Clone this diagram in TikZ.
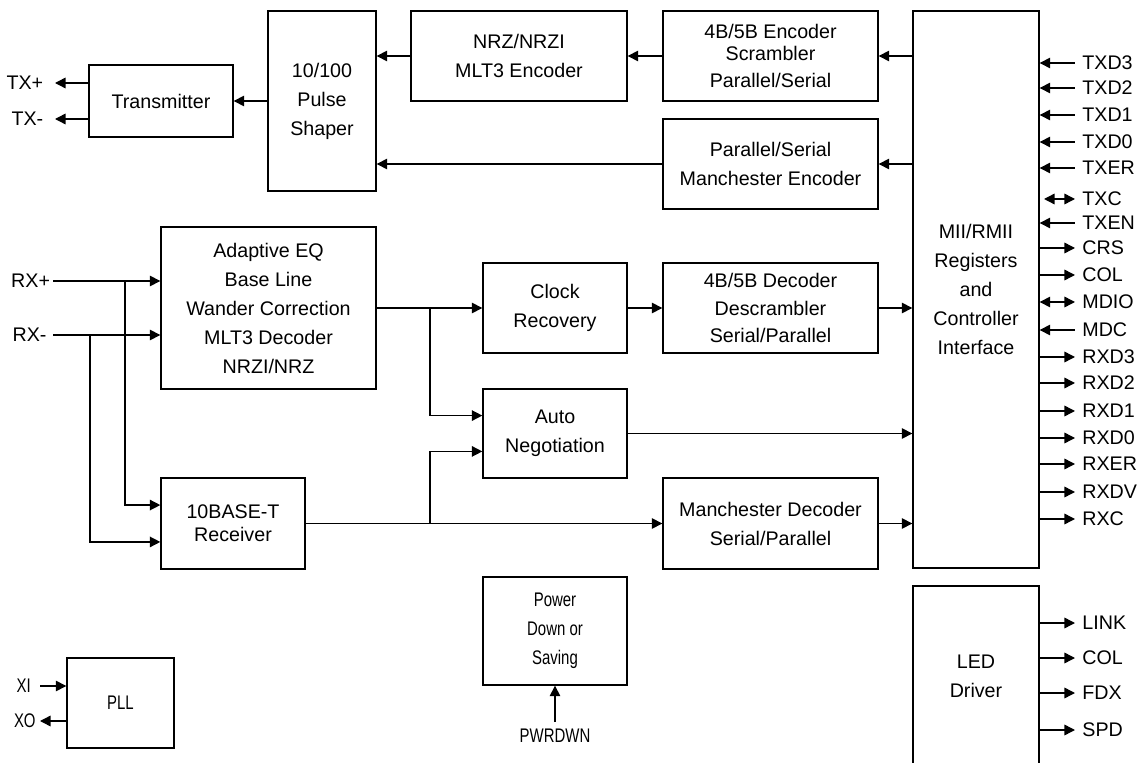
\documentclass[tikz,border=0pt]{standalone}
\usepackage{fontspec}
\setmainfont{Liberation Sans}
\newfontfamily\narrowsf[FakeStretch=0.76]{Liberation Sans}
\usetikzlibrary{positioning,arrows.meta}

\begin{document}
\begin{tikzpicture}[
     % define styles
     x=0.02cm, y=-0.02cm,
     blk/.style 2 args={
         draw,
         line width=0.8pt,
         align=center,
         inner sep=0pt,
         minimum width=#1,
         minimum height=#2
     },
     sigr/.style={anchor=west, inner xsep=4pt, inner ysep=1pt},
     sigl/.style={anchor=east, inner ysep=1pt},
     narrow/.style={font=\fontsize{11.2}{16.5}\selectfont\narrowsf},
     wire/.style={line width=0.8pt},
     arr/.style={wire, ->},
     rarr/.style={wire, <-},
     darr/.style={wire, <->},
     >={Triangle[length=6pt,width=6pt]},
     font=\fontsize{11.2}{16.5}\selectfont
]
\useasboundingbox (0,0) rectangle (1143,763);

% transmit path
\node[blk={2.88cm}{1.44cm}] (tx) at (161,101) {Transmitter};
\node[blk={2.16cm}{3.6cm}] (ps) at (322,101) {10/100\\Pulse\\Shaper};
\node[blk={4.32cm}{1.8cm}] (nrz) at (519,56) {NRZ/NRZI\\MLT3 Encoder};
\node[blk={4.3cm}{1.8cm}] (enc) at (770.5,56) {4B/5B Encoder\\[-4pt]Scrambler\\[-1pt]Parallel/Serial};
\node[blk={4.3cm}{1.8cm}] (menc) at (770.5,164) {Parallel/Serial\\Manchester Encoder};

% MII and LED
\node[blk={2.52cm}{11.14cm}] (mii) at (976,289.5) {MII/RMII\\Registers\\and\\Controller\\Interface};
\node[blk={2.52cm}{3.6cm}] (led) at (976,676) {LED\\Driver};

% receive path
\node[blk={4.3cm}{3.24cm}] (aeq) at (268.5,308) {Adaptive EQ\\Base Line\\Wander Correction\\MLT3 Decoder\\NRZI/NRZ};
\node[blk={2.88cm}{1.82cm}] (rcv) at (233,523.5) {10BASE-T\\[-3.5pt]Receiver};
\node[blk={2.88cm}{1.8cm}] (clk) at (555,308) {Clock\\Recovery};
\node[blk={4.3cm}{1.8cm}] (dec) at (770.5,308) {4B/5B Decoder\\[-1pt]Descrambler\\[-1pt]Serial/Parallel};
\node[blk={2.88cm}{1.78cm}] (an) at (555,433.5) {Auto\\Negotiation};
\node[blk={4.3cm}{1.82cm}] (mdec) at (770.5,523.5) {Manchester Decoder\\Serial/Parallel};

% power and clock
\node[blk={2.88cm}{2.16cm}, narrow] (pwr) at (555,631) {Power\\Down or\\Saving};
\node[blk={2.14cm}{1.8cm}, narrow] (pll) at (120.5,703) {PLL};

% left pins
\node[sigl, inner xsep=6.5pt] (txp) at (55,83) {TX+};
\node[sigl, inner xsep=6.5pt] (txm) at (55,119) {TX-};
\node[sigl, inner xsep=1.5pt] (rxp) at (53,281) {RX+};
\node[sigl, inner xsep=3.5pt] (rxm) at (53,335) {RX-};
\node[sigl, narrow, inner xsep=5pt] (xi) at (40,686) {XI};
\node[sigl, narrow, inner xsep=2.3pt] (xo) at (40,721) {XO};
\node[narrow, anchor=north, inner ysep=4pt] (pwrdwn) at (555,722) {PWRDWN};

% MII pins
\node[sigr] (txd3) at (1075,63) {TXD3};
\node[sigr] (txd2) at (1075,88) {TXD2};
\node[sigr] (txd1) at (1075,115) {TXD1};
\node[sigr] (txd0) at (1075,142) {TXD0};
\node[sigr] (txer) at (1075,168) {TXER};
\node[sigr] (txc) at (1075,199) {TXC};
\node[sigr] (txen) at (1075,223) {TXEN};
\node[sigr] (crs) at (1075,248) {CRS};
\node[sigr] (col) at (1075,275) {COL};
\node[sigr] (mdio) at (1075,302) {MDIO};
\node[sigr] (mdc) at (1075,330) {MDC};
\node[sigr] (rxd3) at (1075,357) {RXD3};
\node[sigr] (rxd2) at (1075,383) {RXD2};
\node[sigr] (rxd1) at (1075,411) {RXD1};
\node[sigr] (rxd0) at (1075,438) {RXD0};
\node[sigr] (rxer) at (1075,464) {RXER};
\node[sigr] (rxdv) at (1075,492) {RXDV};
\node[sigr] (rxc) at (1075,519) {RXC};

% LED pins
\node[sigr] (link) at (1075,623) {LINK};
\node[sigr] (lcol) at (1075,658) {COL};
\node[sigr] (fdx) at (1075,693) {FDX};
\node[sigr] (spd) at (1075,730) {SPD};

% junctions
\coordinate (jp) at (125,281);
\coordinate (jm) at (90,335);
\coordinate (ja) at (430,308);
\coordinate (jb) at (430,523.5);

% transmit connections
\draw[arr] (tx.west |- txp) -- (txp.east);
\draw[arr] (tx.west |- txm) -- (txm.east);
\draw[arr] (ps.west) -- (tx.east);
\draw[arr] (nrz.west) -- (ps.east |- nrz.west);
\draw[arr] (enc.west) -- (nrz.east);
\draw[arr] (mii.west |- enc.east) -- (enc.east);
\draw[arr] (mii.west |- menc.east) -- (menc.east);
\draw[arr] (menc.west) -- (ps.east |- menc.west);

% receive connections
\draw[arr] (rxp.east) -- (aeq.west |- rxp.east);
\draw[arr] (rxm.east) -- (aeq.west |- rxm.east);
\draw[arr] (jp) |- ([yshift=10.5pt]rcv.west);
\draw[arr] (jm) |- ([yshift=-10.5pt]rcv.west);
\draw[arr] (aeq.east) -- (clk.west |- aeq.east);
\draw[arr] (ja) |- ([yshift=10.2pt]an.west);
\draw[arr] (rcv.east) -- (mdec.west |- rcv.east);
\draw[arr] (jb) |- ([yshift=-10.2pt]an.west);
\draw[arr] (clk.east) -- (dec.west);
\draw[arr] (dec.east) -- (mii.west |- dec.east);
\draw[arr] (an.east) -- (mii.west |- an.east);
\draw[arr] (mdec.east) -- (mii.west |- mdec.east);

% power and clock connections
\draw[arr] (pwrdwn.north) -- (pwr.south);
\draw[arr] (xi.east) -- (pll.west |- xi);
\draw[arr] (pll.west |- xo) -- (xo.east);

% MII pin connections
\draw[rarr] (mii.east |- txd3) -- (txd3.west);
\draw[rarr] (mii.east |- txd2) -- (txd2.west);
\draw[rarr] (mii.east |- txd1) -- (txd1.west);
\draw[rarr] (mii.east |- txd0) -- (txd0.west);
\draw[rarr] (mii.east |- txer) -- (txer.west);
\draw[darr] (txc.west) -- ++(-31,0);
\draw[rarr] (mii.east |- txen) -- (txen.west);
\draw[arr] (mii.east |- crs) -- (crs.west);
\draw[arr] (mii.east |- col) -- (col.west);
\draw[darr] (mii.east |- mdio) -- (mdio.west);
\draw[rarr] (mii.east |- mdc) -- (mdc.west);
\draw[arr] (mii.east |- rxd3) -- (rxd3.west);
\draw[arr] (mii.east |- rxd2) -- (rxd2.west);
\draw[arr] (mii.east |- rxd1) -- (rxd1.west);
\draw[arr] (mii.east |- rxd0) -- (rxd0.west);
\draw[arr] (mii.east |- rxer) -- (rxer.west);
\draw[arr] (mii.east |- rxdv) -- (rxdv.west);
\draw[arr] (mii.east |- rxc) -- (rxc.west);

% LED pin connections
\draw[arr] (led.east |- link) -- (link.west);
\draw[arr] (led.east |- lcol) -- (lcol.west);
\draw[arr] (led.east |- fdx) -- (fdx.west);
\draw[arr] (led.east |- spd) -- (spd.west);
\end{tikzpicture}
\end{document}
